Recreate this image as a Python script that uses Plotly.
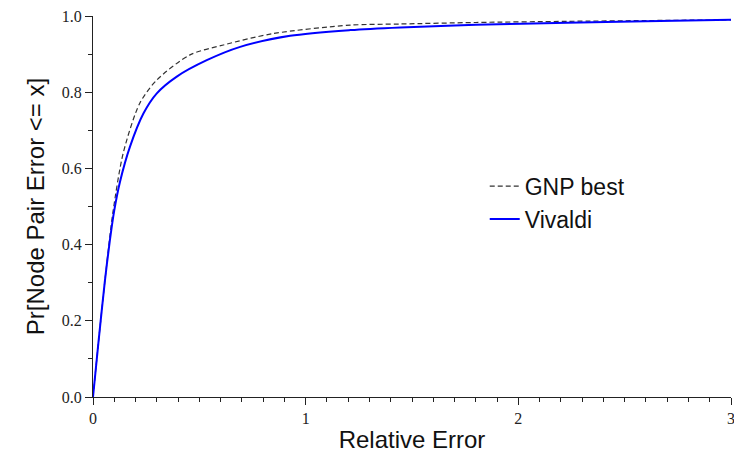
import plotly.graph_objects as go

vivaldi_x = [0, 0.025, 0.055, 0.079, 0.1, 0.127, 0.174, 0.237, 0.3, 0.394, 0.535, 0.692, 0.927, 1.21, 1.445, 1.8, 2.23, 2.6, 3.0]
vivaldi_y = [0, 0.14, 0.30, 0.41, 0.49, 0.565, 0.657, 0.744, 0.797, 0.841, 0.884, 0.919, 0.948, 0.963, 0.970, 0.977, 0.982, 0.986, 0.990]

gnp_x = [0, 0.025, 0.055, 0.079, 0.095, 0.142, 0.22, 0.3, 0.456, 0.613, 0.848, 1.21, 1.445, 1.8, 2.23, 2.6, 3.0]
gnp_y = [0, 0.14, 0.30, 0.42, 0.49, 0.64, 0.771, 0.832, 0.898, 0.924, 0.954, 0.976, 0.979, 0.983, 0.986, 0.988, 0.990]

x_ticks = [0, 1, 2, 3]
x_tick_labels = ["0", "1", "2", "3"]
y_ticks = [0.0, 0.2, 0.4, 0.6, 0.8, 1.0]
y_tick_labels = ["0.0", "0.2", "0.4", "0.6", "0.8", "1.0"]

fig = go.Figure()
fig.add_trace(go.Scatter(x=gnp_x, y=gnp_y, mode="lines", name="GNP best",
                         line=dict(color="#333333", width=1.2, dash="5px,3px", shape="spline", smoothing=0.8)))
fig.add_trace(go.Scatter(x=vivaldi_x, y=vivaldi_y, mode="lines", name="Vivaldi",
                         line=dict(color="#0000ff", width=2, shape="spline", smoothing=0.8)))

fig.update_layout(
    width=734, height=453,
    margin=dict(l=93, r=3, t=16, b=56, autoexpand=False),
    plot_bgcolor="white", paper_bgcolor="white",
    showlegend=True,
    legend=dict(x=0.614, y=0.61, xanchor="left", yanchor="top",
                font=dict(family="Liberation Sans, Arial", size=23, color="#111111"),
                bgcolor="rgba(0,0,0,0)", tracegroupgap=0),
    font=dict(family="Liberation Sans, Arial", color="#111111"),
)
fig.update_xaxes(
    range=[0, 3], tickvals=x_ticks, ticktext=x_tick_labels, automargin=False,
    ticks="outside", ticklen=7, tickwidth=1, tickcolor="#222222",
    showline=True, linecolor="#222222", linewidth=1.3, showgrid=False, zeroline=False,
    ticklabeloverflow="allow",
    tickfont=dict(family="Liberation Serif, Times New Roman", size=16, color="#222222"),
    minor=dict(dtick=0.1, ticks="outside", ticklen=4, tickcolor="#222222", showgrid=False),
    title=dict(text="Relative Error", font=dict(family="Liberation Sans, Arial", size=24, color="#111111"), standoff=8),
)
fig.update_yaxes(
    range=[0, 1], tickvals=y_ticks, ticktext=y_tick_labels, automargin=False,
    ticks="outside", ticklen=7, tickwidth=1, tickcolor="#222222",
    showline=True, linecolor="#222222", linewidth=1.3, showgrid=False, zeroline=False,
    tickfont=dict(family="Liberation Serif, Times New Roman", size=16, color="#222222"),
    minor=dict(dtick=0.1, ticks="outside", ticklen=4, tickcolor="#222222", showgrid=False),
    title=dict(text="Pr[Node Pair Error <= x]", font=dict(family="Liberation Sans, Arial", size=24, color="#111111"), standoff=10),
)

fig.write_html("out.html")
